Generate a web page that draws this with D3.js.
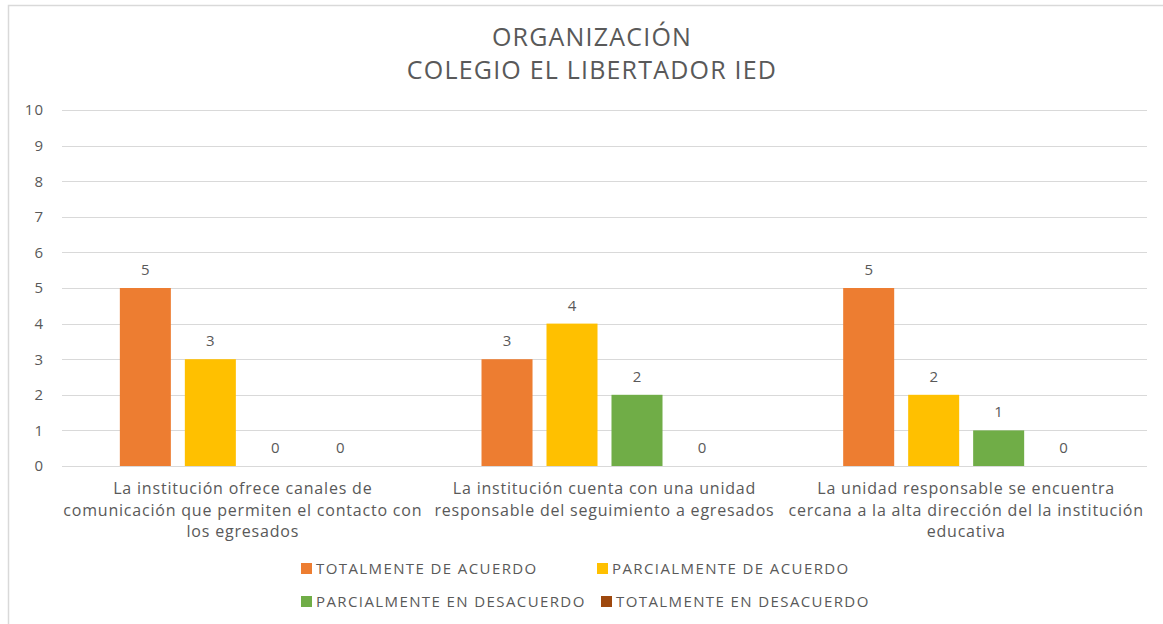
<!DOCTYPE html>
<html>
<head>
<meta charset="utf-8">
<script src="https://cdn.jsdelivr.net/npm/d3@7"></script>
<style>
  html, body { margin: 0; padding: 0; background: #fff; }
  svg { display: block; }
  text { font-family: "Open Sans", "Noto Sans", sans-serif; fill: #595959; }
</style>
</head>
<body>
<svg id="chart" width="1163" height="624"></svg>
<script>
const titleLines = ["ORGANIZACIÓN", "COLEGIO EL LIBERTADOR IED"];
const categories = [
  "La institución ofrece canales de\ncomunicación que permiten el contacto con\nlos egresados",
  "La institución cuenta con una unidad\nresponsable del seguimiento a egresados",
  "La unidad responsable se encuentra\ncercana a la alta dirección del la institución\neducativa"
];
const seriesNames = ["TOTALMENTE DE ACUERDO", "PARCIALMENTE DE ACUERDO", "PARCIALMENTE EN DESACUERDO", "TOTALMENTE EN DESACUERDO"];
const seriesColors = ["#ED7D31", "#FFC000", "#70AD47", "#9E480E"];
const totalmenteDeAcuerdo = [5, 3, 5];
const parcialmenteDeAcuerdo = [3, 4, 2];
const parcialmenteEnDesacuerdo = [0, 2, 1];
const totalmenteEnDesacuerdo = [0, 0, 0];
const yTicks = [0, 1, 2, 3, 4, 5, 6, 7, 8, 9, 10];

const seriesValues = [totalmenteDeAcuerdo, parcialmenteDeAcuerdo, parcialmenteEnDesacuerdo, totalmenteEnDesacuerdo];

const svg = d3.select("#chart");

// chart border (top and left visible)
svg.append("path").attr("d", "M8.5,624 L8.5,5.5 L1163,5.5")
  .attr("fill", "none").attr("stroke", "#d9d9d9").attr("stroke-width", 1.5);

// title
const title = svg.append("text").attr("text-anchor", "middle").attr("font-size", 25)
  .attr("letter-spacing", 1.2);
titleLines.forEach((t, i) => {
  title.append("tspan").attr("x", 592).attr("y", 46 + i * 33).text(t);
});

const x0 = d3.scaleBand().domain(d3.range(categories.length)).range([62, 1147]).padding(0);
const x1 = d3.scaleBand().domain(d3.range(seriesNames.length)).range([0, x0.bandwidth()])
  .paddingInner(0.215).paddingOuter(0.89);
const y = d3.scaleLinear().domain([0, 10]).range([466, 110]);

// gridlines
svg.append("g").selectAll("line").data(yTicks).join("line")
  .attr("x1", 62).attr("x2", 1147)
  .attr("y1", d => Math.round(y(d)) + 0.5).attr("y2", d => Math.round(y(d)) + 0.5)
  .attr("stroke", "#d9d9d9").attr("stroke-width", 1);

// y axis labels
const yAxis = d3.axisLeft(y).tickValues(yTicks).tickSize(0).tickPadding(0);
const gy = svg.append("g").attr("transform", "translate(44,0)").call(yAxis);
gy.select(".domain").remove();
gy.selectAll("text").attr("font-size", 15).attr("fill", "#595959").attr("letter-spacing", 1)
  .style("font-family", '"Open Sans", sans-serif');

// bars
const groups = svg.append("g").selectAll("g").data(categories.map((c, i) => i)).join("g")
  .attr("transform", i => `translate(${x0(i)},0)`);

groups.selectAll("rect").data(ci => seriesValues.map((vals, si) => ({si, v: vals[ci]}))).join("rect")
  .attr("x", d => x1(d.si)).attr("width", x1.bandwidth())
  .attr("y", d => y(d.v)).attr("height", d => y(0) - y(d.v))
  .attr("fill", d => seriesColors[d.si]);

groups.selectAll("text.lbl").data(ci => seriesValues.map((vals, si) => ({si, v: vals[ci]}))).join("text")
  .attr("class", "lbl")
  .attr("x", d => x1(d.si) + x1.bandwidth() / 2)
  .attr("y", d => y(d.v) - 13)
  .attr("text-anchor", "middle").attr("font-size", 15)
  .text(d => d.v);

// category labels
const xAxis = svg.append("g");
categories.forEach((c, i) => {
  const t = xAxis.append("text").attr("text-anchor", "middle").attr("font-size", 16)
    .attr("letter-spacing", 0.8);
  c.split("\n").forEach((line, li) => {
    t.append("tspan").attr("x", x0(i) + x0.bandwidth() / 2).attr("y", 494 + li * 21.5).text(line);
  });
});

// legend
const legendPos = [[301, 568], [597, 568], [301, 601], [601, 601]];
const legend = svg.append("g").selectAll("g").data(seriesNames).join("g")
  .attr("transform", (d, i) => `translate(${legendPos[i][0]},${legendPos[i][1]})`);
legend.append("rect").attr("x", 0).attr("y", -5).attr("width", 11).attr("height", 11)
  .attr("fill", (d, i) => seriesColors[i]);
legend.append("text").attr("x", 15).attr("y", 5.5).attr("font-size", 15)
  .attr("letter-spacing", 1.4).text(d => d);
</script>
</body>
</html>
